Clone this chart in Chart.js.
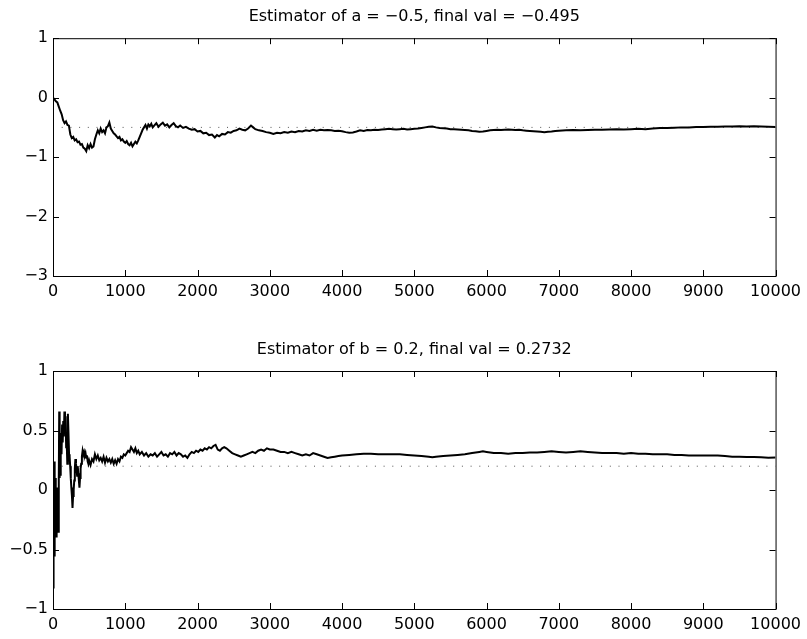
<!DOCTYPE html>
<html>
<head>
<meta charset="utf-8">
<script src="https://cdn.jsdelivr.net/npm/chart.js@4"></script>
<style>
  html, body { margin:0; padding:0; background:#fff; }
  #wrap { position:relative; width:807px; height:639px; }
  canvas { position:absolute; left:0; }
  #c1 { top:0; }
  #c2 { top:320px; }
</style>
</head>
<body>
<div id="wrap">
  <canvas id="c1" width="807" height="320"></canvas>
  <canvas id="c2" width="807" height="319"></canvas>
</div>
<script>
// step (x) / estimate (y) pairs
const aTrue = -0.5;
const bTrue = 0.2;
const stepTicks = [0,1000,2000,3000,4000,5000,6000,7000,8000,9000,10000];
const aTicks = [-3,-2,-1,0,1];
const bTicks = [-1,-0.5,0,0.5,1];

const aEst = [
  [0,0],[20,-0.03],[40,-0.06],[60,-0.08],[80,-0.15],[100,-0.22],[120,-0.28],[140,-0.38],[160,-0.43],[180,-0.40],
  [200,-0.46],[220,-0.47],[240,-0.62],[260,-0.68],[280,-0.66],[300,-0.72],[320,-0.70],[340,-0.75],[360,-0.74],[380,-0.79],
  [400,-0.78],[420,-0.84],[440,-0.86],[460,-0.90],[480,-0.80],[500,-0.85],[520,-0.78],[540,-0.84],[560,-0.82],[580,-0.70],
  [600,-0.62],[620,-0.55],[640,-0.60],[660,-0.52],[680,-0.58],[700,-0.55],[720,-0.60],[740,-0.50],[760,-0.48],[780,-0.42],
  [800,-0.52],[820,-0.56],[840,-0.60],[860,-0.62],[880,-0.65],[900,-0.68],[920,-0.66],[940,-0.72],[960,-0.70],[980,-0.74],
  [1000,-0.76],[1020,-0.73],[1040,-0.78],[1060,-0.80],[1080,-0.76],[1100,-0.82],[1120,-0.78],[1140,-0.74],[1160,-0.77],[1180,-0.72],
  [1200,-0.66],[1220,-0.60],[1240,-0.54],[1260,-0.50],[1280,-0.46],[1300,-0.52],[1320,-0.45],[1340,-0.48],[1360,-0.44],[1380,-0.50],
  [1400,-0.47],[1430,-0.43],[1460,-0.49],[1490,-0.45],[1520,-0.42],[1550,-0.47],[1580,-0.45],[1610,-0.50],[1640,-0.46],[1670,-0.43],
  [1700,-0.48],[1730,-0.50],[1760,-0.47],[1800,-0.51],[1840,-0.49],[1880,-0.52],[1920,-0.54],[1960,-0.53],[2000,-0.57],[2040,-0.56],
  [2080,-0.60],[2120,-0.59],[2160,-0.63],[2200,-0.62],[2240,-0.67],[2270,-0.63],[2300,-0.65],[2340,-0.61],[2380,-0.62],[2420,-0.58],
  [2460,-0.59],[2500,-0.56],[2540,-0.55],[2580,-0.52],[2620,-0.54],[2660,-0.55],[2700,-0.52],[2740,-0.47],[2770,-0.50],[2800,-0.53],
  [2850,-0.55],[2900,-0.56],[2950,-0.58],[3000,-0.59],[3050,-0.61],[3100,-0.59],[3150,-0.60],[3200,-0.58],[3250,-0.59],[3300,-0.57],
  [3350,-0.58],[3400,-0.56],[3450,-0.57],[3500,-0.55],[3550,-0.56],[3600,-0.54],[3650,-0.555],[3700,-0.54],[3750,-0.55],[3800,-0.545],
  [3850,-0.55],[3900,-0.56],[3950,-0.555],[4000,-0.565],[4050,-0.58],[4100,-0.59],[4150,-0.585],[4200,-0.57],[4250,-0.55],[4300,-0.56],
  [4350,-0.545],[4400,-0.55],[4450,-0.54],[4500,-0.545],[4550,-0.535],[4600,-0.53],[4650,-0.525],[4700,-0.53],[4750,-0.535],[4800,-0.53],
  [4850,-0.525],[4900,-0.535],[4950,-0.53],[5000,-0.525],[5050,-0.52],[5100,-0.51],[5150,-0.50],[5200,-0.49],[5250,-0.485],[5300,-0.50],
  [5350,-0.51],[5400,-0.515],[5450,-0.52],[5500,-0.53],[5550,-0.53],[5600,-0.535],[5650,-0.54],[5700,-0.545],[5750,-0.55],[5800,-0.56],
  [5850,-0.565],[5900,-0.575],[5950,-0.57],[6000,-0.56],[6050,-0.55],[6100,-0.545],[6150,-0.54],[6200,-0.545],[6250,-0.54],[6300,-0.535],
  [6350,-0.54],[6400,-0.545],[6450,-0.54],[6500,-0.55],[6550,-0.555],[6600,-0.56],[6650,-0.565],[6700,-0.57],[6750,-0.575],[6800,-0.58],
  [6850,-0.575],[6900,-0.57],[6950,-0.56],[7000,-0.555],[7100,-0.55],[7200,-0.545],[7300,-0.55],[7400,-0.545],[7500,-0.54],[7600,-0.54],
  [7700,-0.535],[7800,-0.53],[7900,-0.535],[8000,-0.53],[8100,-0.525],[8200,-0.53],[8300,-0.52],[8400,-0.51],[8500,-0.51],[8600,-0.505],
  [8700,-0.50],[8800,-0.50],[8900,-0.495],[9000,-0.495],[9100,-0.49],[9200,-0.49],[9300,-0.485],[9400,-0.485],[9500,-0.48],[9600,-0.485],
  [9700,-0.48],[9800,-0.485],[9900,-0.49],[10000,-0.495]
];

const bEst = [
  [0,-0.82],[8,0.22],[14,-0.55],[20,0.24],[26,-0.42],[32,0.10],[38,-0.38],[44,-0.05],[50,-0.40],[56,0.02],
  [62,-0.32],[68,-0.10],[74,-0.35],[80,0.08],[86,0.66],[92,0.10],[98,0.25],[104,0.12],[110,0.48],[118,0.30],
  [126,0.55],[134,0.40],[142,0.58],[150,0.45],[158,0.66],[166,0.50],[174,0.62],[182,0.36],[190,0.40],[198,0.22],
  [206,0.64],[214,0.48],[222,0.30],[230,0.28],[238,0.20],[246,0.10],[254,0.02],[262,-0.05],[270,-0.15],[278,-0.05],
  [286,0.00],[294,0.08],[302,0.18],[310,0.26],[318,0.22],[326,0.18],[334,0.12],[342,0.20],[350,0.14],[358,0.08],
  [366,0.02],[374,0.10],[382,0.18],[390,0.22],[400,0.28],[410,0.33],[420,0.30],[430,0.32],[440,0.29],[450,0.31],
  [460,0.27],[470,0.29],[480,0.24],[490,0.22],[500,0.25],[520,0.21],[540,0.26],[560,0.24],[580,0.30],[600,0.26],
  [620,0.29],[640,0.25],[660,0.27],[680,0.24],[700,0.28],[720,0.23],[740,0.27],[760,0.24],[780,0.26],[800,0.23],
  [820,0.26],[840,0.22],[860,0.25],[880,0.22],[900,0.26],[920,0.24],[940,0.28],[960,0.27],[980,0.30],[1000,0.29],
  [1020,0.31],[1040,0.33],[1060,0.32],[1080,0.36],[1100,0.34],[1120,0.32],[1140,0.35],[1160,0.31],[1180,0.33],[1200,0.30],
  [1230,0.32],[1260,0.29],[1290,0.31],[1320,0.28],[1350,0.30],[1380,0.29],[1410,0.31],[1440,0.28],[1470,0.30],[1500,0.32],
  [1530,0.29],[1560,0.30],[1590,0.28],[1620,0.31],[1650,0.30],[1680,0.32],[1710,0.29],[1740,0.31],[1770,0.30],[1800,0.28],
  [1830,0.29],[1860,0.27],[1890,0.30],[1920,0.32],[1950,0.31],[1980,0.33],[2010,0.32],[2040,0.34],[2070,0.33],[2100,0.35],
  [2130,0.34],[2160,0.36],[2190,0.35],[2220,0.37],[2250,0.38],[2280,0.34],[2310,0.33],[2340,0.35],[2370,0.36],[2400,0.35],
  [2440,0.33],[2480,0.31],[2520,0.30],[2560,0.29],[2600,0.28],[2640,0.29],[2680,0.30],[2720,0.31],[2760,0.32],[2800,0.31],
  [2840,0.33],[2880,0.34],[2920,0.33],[2960,0.35],[3000,0.34],[3050,0.34],[3100,0.33],[3150,0.32],[3200,0.32],[3250,0.31],
  [3300,0.32],[3350,0.31],[3400,0.30],[3450,0.29],[3500,0.30],[3550,0.29],[3600,0.31],[3650,0.30],[3700,0.29],[3750,0.28],
  [3800,0.27],[3850,0.275],[3900,0.28],[3950,0.285],[4000,0.29],[4100,0.295],[4200,0.30],[4300,0.305],[4400,0.305],[4500,0.30],
  [4600,0.30],[4700,0.30],[4800,0.30],[4900,0.295],[5000,0.29],[5100,0.285],[5200,0.28],[5250,0.275],[5300,0.28],[5400,0.285],
  [5500,0.29],[5600,0.295],[5700,0.30],[5800,0.31],[5900,0.32],[5950,0.325],[6000,0.32],[6100,0.31],[6200,0.31],[6300,0.305],
  [6400,0.31],[6500,0.31],[6600,0.315],[6700,0.315],[6800,0.32],[6900,0.325],[7000,0.32],[7100,0.315],[7200,0.32],[7300,0.325],
  [7400,0.32],[7500,0.315],[7600,0.31],[7700,0.31],[7800,0.31],[7900,0.305],[8000,0.31],[8100,0.305],[8200,0.305],[8300,0.30],
  [8400,0.30],[8500,0.30],[8600,0.295],[8700,0.295],[8800,0.29],[8900,0.29],[9000,0.29],[9100,0.29],[9200,0.29],[9300,0.285],
  [9400,0.28],[9500,0.28],[9600,0.278],[9700,0.278],[9800,0.275],[9900,0.272],[10000,0.2732]
];

const FONT = { family:'"DejaVu Sans", sans-serif', size:16 };
Chart.defaults.color = '#000';

// matlab-style tick label: unicode minus
function fmt(v){
  const s = String(Math.abs(v));
  return v < 0 ? '\u2212' + s : s;
}

// box round the axes, ticks pointing inward on all four sides
const boxPlugin = {
  id:'box',
  afterDraw(chart){
    const { ctx, chartArea:a, scales } = chart;
    const len = 6;
    ctx.save();
    ctx.strokeStyle = '#000';
    ctx.lineWidth = 1;
    ctx.strokeRect(a.left + 0.5, a.top + 0.5, a.right - a.left, a.bottom - a.top);
    ctx.beginPath();
    scales.x.ticks.forEach(t => {
      const px = Math.round(scales.x.getPixelForValue(t.value)) + 0.5;
      ctx.moveTo(px, a.bottom); ctx.lineTo(px, a.bottom - len);
      ctx.moveTo(px, a.top); ctx.lineTo(px, a.top + len);
    });
    scales.y.ticks.forEach(t => {
      const py = Math.round(scales.y.getPixelForValue(t.value)) + 0.5;
      ctx.moveTo(a.left, py); ctx.lineTo(a.left + len, py);
      ctx.moveTo(a.right, py); ctx.lineTo(a.right - len, py);
    });
    ctx.stroke();
    ctx.restore();
  }
};

function makeChart(id, title, est, trueVal, yTicks, xAxisH, padTop, padBottom){
  const yMin = yTicks[0], yMax = yTicks[yTicks.length-1];
  return new Chart(document.getElementById(id), {
    type:'line',
    data:{
      datasets:[
        { data: est.map(p => ({ x:p[0], y:p[1] })), borderColor:'#000', borderWidth:2,
          pointRadius:0, tension:0 },
        { data:[{ x:stepTicks[0], y:trueVal }, { x:stepTicks[stepTicks.length-1], y:trueVal }],
          borderColor:'#555', borderWidth:1, borderDash:[1,7.7], pointRadius:0 }
      ]
    },
    options:{
      responsive:false,
      animation:false,
      layout:{ padding:{ left:0, right:30, top:0, bottom:0 } },
      plugins:{
        legend:{ display:false },
        tooltip:{ enabled:false },
        // fullSize false -> title centred over the plot box, like matlab
        title:{ display:true, fullSize:false, text:title, color:'#000', font:{ ...FONT, weight:'normal' },
          padding:{ top:padTop, bottom:padBottom } }
      },
      scales:{
        x:{
          type:'linear', min:stepTicks[0], max:stepTicks[stepTicks.length-1],
          afterBuildTicks: s => { s.ticks = stepTicks.map(v => ({ value:v })); },
          grid:{ display:false, drawTicks:false }, border:{ display:false },
          ticks:{ font:FONT, padding:6, maxRotation:0, autoSkip:false, callback: v => fmt(v) },
          afterFit: s => { s.height = xAxisH; }
        },
        y:{
          min:yMin, max:yMax,
          afterBuildTicks: s => { s.ticks = yTicks.map(v => ({ value:v })); },
          grid:{ display:false, drawTicks:false }, border:{ display:false },
          ticks:{ font:FONT, padding:5, callback: v => fmt(v) },
          afterFit: s => { s.width = 53; }
        }
      }
    },
    plugins:[boxPlugin]
  });
}

makeChart('c1', 'Estimator of a = \u22120.5, final val = \u22120.495', aEst, aTrue, aTicks, 44, 7.5, 11.5);
makeChart('c2', 'Estimator of b = 0.2, final val = 0.2732', bEst, bTrue, bTicks, 30, 19.8, 12);
</script>
</body>
</html>
